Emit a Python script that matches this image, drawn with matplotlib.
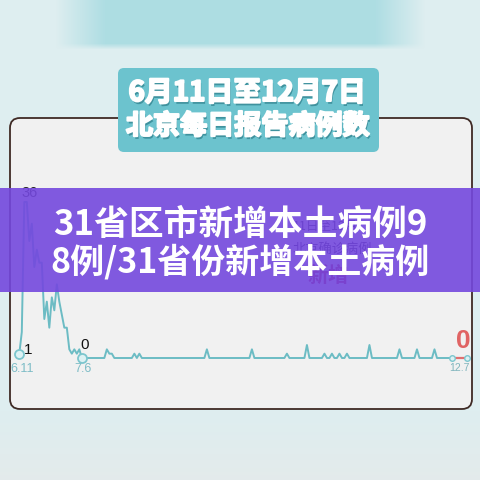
import matplotlib
matplotlib.use("Agg")
import matplotlib.pyplot as plt
import matplotlib.patheffects as pe
from matplotlib.patches import FancyBboxPatch, Rectangle
import numpy as np
import pandas as pd

plt.rcParams['font.family'] = ['Noto Sans CJK SC', 'DejaVu Sans']

# daily reported cases, Beijing, 6.11 - 12.7
dates = pd.date_range('2020-06-11', '2020-12-07', freq='D')
outbreak = [1, 6, 36, 36, 27, 31, 21, 25, 22, 22, 9, 13, 7, 14, 11,
            17, 13, 10, 7, 7, 2, 1, 2, 1, 2, 0]
later_days = [35, 36, 37, 46, 48, 75, 93, 107, 115, 122, 125, 128, 131,
              140, 152, 159, 166]
later_vals = [2, 1, 1, 1, 1, 2, 2, 1, 3, 1, 1, 1, 1, 3, 2, 2, 2]
cases = [0] * len(dates)
for i, v in enumerate(outbreak):
    cases[i] = v
for d, v in zip(later_days, later_vals):
    cases[d] = v
red_from = 173

title1 = '6月11日至12月7日'
title2 = '北京每日报告病例数'
banner1 = '31省区市新增本土病例9'
banner2 = '8例/31省份新增本土病例'

W = 480
fig = plt.figure(figsize=(4.8, 4.8), dpi=100)
fig.patch.set_facecolor('#deeef0')

# background / decoration layer in pixel coords
bg = fig.add_axes([0, 0, 1, 1], zorder=0)
bg.axis('off')

# blurred teal band on top
yy, xx = np.mgrid[0:60, 0:480]
fx = np.clip(np.minimum((xx - 55) / 50.0, (425 - xx) / 50.0), 0, 1)
fy = np.clip((49 - yy) / 6.0, 0, 1)
img = np.ones((60, 480, 4))
img[..., 0] = 0.60
img[..., 1] = 0.84
img[..., 2] = 0.87
img[..., 3] = fx * fy * 0.7
bg.imshow(img, extent=(0, 480, 60, 0), zorder=1, interpolation='bilinear')

# bottom slightly grey
img2 = np.zeros((70, 1, 4))
img2[..., 0] = 0.90
img2[..., 1] = 0.92
img2[..., 2] = 0.92
img2[..., 3] = np.linspace(0, 0.8, 70)[:, None]
bg.imshow(img2, extent=(0, 480, 480, 410), zorder=1, aspect='auto')
bg.set_xlim(0, W)
bg.set_ylim(W, 0)

frame = FancyBboxPatch((10, 118), 462, 291, boxstyle='round,pad=0,rounding_size=10',
                       fc='#f1f1f1', ec='#3f2a25', lw=1.3, zorder=2)
bg.add_patch(frame)

# watermark behind banner (faint, partly covered like the original)
bg.text(326, 226, '11日至12月', fontsize=9, color='#1a0a40', ha='center', va='center', zorder=3)
bg.text(332, 249, '北京确诊病例', fontsize=9.5, color='#1a0a40', ha='center', va='center', zorder=3)
bg.text(328, 275, '新增', fontsize=15, color='#b01040', fontweight='bold', style='italic',
        ha='center', va='center', zorder=3)

# title box
tbox = FancyBboxPatch((118, 68), 261, 84, boxstyle='round,pad=0,rounding_size=6',
                      fc='#6cc3ce', ec='none', zorder=4)
bg.add_patch(tbox)
fx_title = [pe.withSimplePatchShadow(offset=(1, -2), shadow_rgbFace='#3a8d99', alpha=0.9),
            pe.withStroke(linewidth=1.5, foreground='white')]
bg.text(247, 93, title1, fontsize=20, fontweight='black', color='white', ha='center',
        va='center', zorder=5, path_effects=fx_title)
bg.text(248, 126, title2, fontsize=19.5, fontweight='black', color='white', ha='center',
        va='center', zorder=5, path_effects=fx_title)

# data layer
x0, x1 = 19.3, 467
y0, y36 = 358, 202
ax = fig.add_axes([x0 / W, (W - y0) / W, (x1 - x0) / W, (y0 - y36) / W], zorder=1)
ax.patch.set_alpha(0)
ax.axis('off')
ax.set_xlim(dates[0], dates[-1])
ax.set_ylim(0, 36)

teal = '#6cbcc4'
ax.plot(dates[:red_from + 1], cases[:red_from + 1], color=teal, lw=1.4, clip_on=False)
ax.plot(dates[red_from:], cases[red_from:], color='#e07070', lw=1.6, clip_on=False)
i76 = 25
for i in [0, i76]:
    ax.plot(dates[i], cases[i], 'o', ms=6.5, mfc='#dcf1f3', mec='#7cc6ce', mew=1.3, clip_on=False)
for i in [red_from, len(dates) - 1]:
    ax.plot(dates[i], cases[i], 'o', ms=4, mfc='#dcf1f3', mec='#7cc6ce', mew=1, clip_on=False)

num_font = 'Liberation Sans'
ax.annotate('36', (dates[2], 36), xytext=(5, 9), textcoords='offset pixels', fontsize=10.5,
            family=num_font, color='#222222', ha='center', va='center')
ax.annotate('1', (dates[0], cases[0]), xytext=(9, 4), textcoords='offset pixels', fontsize=11,
            family=num_font, color='#111111', ha='center', va='center')
ax.annotate('0', (dates[i76], 0), xytext=(3, 13), textcoords='offset pixels', fontsize=11,
            family=num_font, color='#111111', ha='center', va='center')
ax.annotate('6.11', (dates[0], 0), xytext=(3, -11), textcoords='offset pixels', fontsize=9,
            family=num_font, color='#7dbcc6', ha='center', va='center')
ax.annotate('7.6', (dates[i76], 0), xytext=(1, -11), textcoords='offset pixels', fontsize=9,
            family=num_font, color='#7dbcc6', ha='center', va='center')
ax.annotate('12.7', (dates[-1], 0), xytext=(-8, -10), textcoords='offset pixels', fontsize=7.5,
            family=num_font, color='#7fb4bc', ha='center', va='center')
ax.annotate('0', (dates[-1], 0), xytext=(-4, 17), textcoords='offset pixels', fontsize=19,
            fontweight='bold', family=num_font, color='#e06464', ha='center', va='center')

# purple banner on top
ov = fig.add_axes([0, 0, 1, 1], zorder=3)
ov.patch.set_alpha(0)
ov.set_xlim(0, W)
ov.set_ylim(W, 0)
ov.axis('off')
ov.add_patch(Rectangle((0, 188), 480, 104, fc='#7448de', ec='none', alpha=0.9))
ov.text(240, 224, banner1, fontsize=25, fontweight='black', color='white', ha='center', va='center')
ov.text(240, 262, banner2, fontsize=24.5, fontweight='black', color='white', ha='center', va='center')

fig.savefig('out.png', dpi=100)
